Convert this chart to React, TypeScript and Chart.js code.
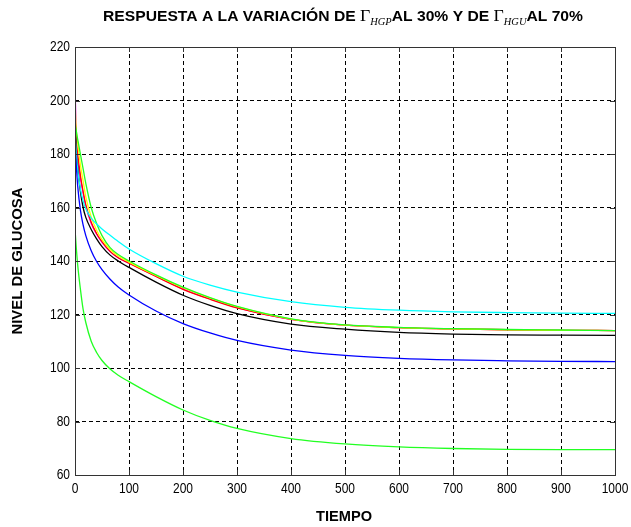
import React, { useEffect, useRef } from 'react';
import { Chart, registerables } from 'chart.js';

Chart.register(...registerables);

const TIMES = [0, 2, 5, 10, 15, 20, 30, 40, 50, 65, 80, 100, 150, 200, 250, 300, 400, 500, 600, 700, 800, 900, 1000];

const MAGENTA = [208, 188, 179, 171, 165.5, 160.5, 154, 150, 147, 143.5, 141.2, 139.2, 134.3, 129.6, 125.8, 122.6, 118.2, 116, 115.1, 114.6, 114.3, 114.1, 114];
const RED = [194, 186, 180, 172, 166, 161, 154.5, 150.3, 147.2, 143.6, 141.2, 139.2, 134.2, 129.4, 125.7, 122.5, 118.2, 116, 115.1, 114.6, 114.3, 114.1, 114];
const YELLOW = [200, 190, 184, 176, 170, 164, 156.5, 151.5, 148, 144.3, 141.9, 139.6, 134.6, 130, 126.2, 122.9, 118.3, 116, 115.1, 114.6, 114.3, 114.1, 114];
const BLACK = [197, 182, 175, 166, 160, 156.3, 151.8, 148.3, 145.4, 142.2, 140, 137.6, 132.1, 127.2, 123.4, 120.3, 116.4, 114.5, 113.3, 112.7, 112.4, 112.3, 112.2];
const GREEN = [191, 189, 185.5, 180, 174.5, 169, 160, 154, 149.5, 145, 142.4, 140, 134.8, 130.2, 126.3, 123, 118.4, 116.1, 115.2, 114.7, 114.4, 114.2, 114];
const CYAN = [188.6, 181, 174, 167, 162.5, 159.5, 156, 153.8, 152, 149.6, 147.3, 144.5, 139, 134.3, 131, 128.4, 124.8, 122.7, 121.6, 121, 120.7, 120.5, 120.4];
const BLUE = [184, 177, 168, 159, 153.5, 149.5, 143.8, 139.8, 136.8, 133.2, 130.3, 127.3, 121.3, 116.6, 113.1, 110.3, 106.7, 104.7, 103.6, 103, 102.7, 102.5, 102.4];
const GREEN_LOW = [152, 146, 138.5, 129.5, 122, 117, 110, 105.8, 102.8, 99.6, 97.3, 94.9, 89.3, 84.3, 80.4, 77.4, 73.6, 71.6, 70.5, 69.9, 69.6, 69.5, 69.5];

const X_TICKS = [0, 100, 200, 300, 400, 500, 600, 700, 800, 900, 1000];
const Y_TICKS = [60, 80, 100, 120, 140, 160, 180, 200, 220];

const TITLE_PARTS = [
  { t: 'RESPUESTA A LA VARIACIÓN DE ', kind: 'main' },
  { t: 'Γ', kind: 'greek' },
  { t: 'HGP', kind: 'sub' },
  { t: 'AL 30% Y DE ', kind: 'main' },
  { t: 'Γ', kind: 'greek' },
  { t: 'HGU', kind: 'sub' },
  { t: 'AL 70%', kind: 'main' },
];
const Y_TITLE = 'NIVEL DE GLUCOSA';
const X_TITLE = 'TIEMPO';

const SANS = '"Liberation Sans", Arial, sans-serif';
const SERIF = '"Liberation Serif", "DejaVu Serif", serif';

function fontFor(kind: string) {
  if (kind === 'greek') return `17px ${SERIF}`;
  if (kind === 'sub') return `italic 10px ${SERIF}`;
  return `bold 15px ${SANS}`;
}

function drawFitText(ctx: CanvasRenderingContext2D, text: string, font: string, cx: number, cy: number, width: number, rotate: boolean) {
  ctx.save();
  ctx.font = font;
  const w = ctx.measureText(text).width;
  ctx.translate(cx, cy);
  if (rotate) ctx.rotate(-Math.PI / 2);
  ctx.scale(width / w, 1);
  ctx.textAlign = 'center';
  ctx.textBaseline = 'middle';
  ctx.fillStyle = '#000';
  ctx.fillText(text, 0, 0);
  ctx.restore();
}

function drawNarrow(ctx: CanvasRenderingContext2D, text: string, x: number, y: number, align: 'right' | 'center') {
  const sx = 0.8;
  ctx.save();
  ctx.font = `15px ${SANS}`;
  const w = ctx.measureText(text).width * sx;
  const left = align === 'right' ? x - w : x - w / 2;
  ctx.translate(left, y);
  ctx.scale(sx, 1);
  ctx.textAlign = 'left';
  ctx.textBaseline = 'middle';
  ctx.fillStyle = '#000';
  ctx.fillText(text, 0, 0);
  ctx.restore();
}

const decorPlugin = {
  id: 'decor',
  afterDraw(chart: any) {
    const ctx: CanvasRenderingContext2D = chart.ctx;
    const { left, right, top, bottom } = chart.chartArea;
    const xs = chart.scales.x;
    const ys = chart.scales.y;
    ctx.save();
    ctx.strokeStyle = '#333';
    ctx.lineWidth = 1;
    ctx.setLineDash([]);
    ctx.strokeRect(Math.round(left) + 0.5, Math.round(top) + 0.5, Math.round(right - left), Math.round(bottom - top));
    ctx.beginPath();
    const tl = 5;
    X_TICKS.forEach((v) => {
      const px = Math.round(xs.getPixelForValue(v)) + 0.5;
      ctx.moveTo(px, bottom);
      ctx.lineTo(px, bottom - tl);
      ctx.moveTo(px, top);
      ctx.lineTo(px, top + tl);
    });
    Y_TICKS.forEach((v) => {
      const py = Math.round(ys.getPixelForValue(v)) + 0.5;
      ctx.moveTo(left, py);
      ctx.lineTo(left + tl, py);
      ctx.moveTo(right, py);
      ctx.lineTo(right - tl, py);
    });
    ctx.stroke();

    X_TICKS.forEach((v) => {
      drawNarrow(ctx, String(v), xs.getPixelForValue(v), bottom + 14, 'center');
    });
    Y_TICKS.forEach((v) => {
      drawNarrow(ctx, String(v), left - 5, ys.getPixelForValue(v), 'right');
    });

    const widths = TITLE_PARTS.map((p) => {
      ctx.font = fontFor(p.kind);
      return ctx.measureText(p.t).width;
    });
    const total = widths.reduce((a, b) => a + b, 0);
    const target = 480;
    const sx = target / total;
    const cx = 343;
    const baseline = 21;
    ctx.save();
    ctx.translate(cx - target / 2, baseline);
    ctx.scale(sx, 1);
    ctx.fillStyle = '#000';
    ctx.textAlign = 'left';
    ctx.textBaseline = 'alphabetic';
    let x = 0;
    TITLE_PARTS.forEach((p, i) => {
      ctx.font = fontFor(p.kind);
      const dy = p.kind === 'sub' ? 4 : 0;
      ctx.fillText(p.t, x, dy);
      x += widths[i];
    });
    ctx.restore();
    ctx.restore();

    drawFitText(ctx, Y_TITLE, `bold 15px ${SANS}`, 18, 261, 147, true);
    drawFitText(ctx, X_TITLE, `bold 15px ${SANS}`, 344, 517, 56, false);
  },
};

export default function App() {
  const ref = useRef<HTMLCanvasElement>(null);

  useEffect(() => {
    if (!ref.current) return;
    const series = [
      { data: MAGENTA, color: '#ff00ff' },
      { data: RED, color: '#ff0000' },
      { data: YELLOW, color: '#ffff00' },
      { data: BLACK, color: '#000000' },
      { data: GREEN, color: '#22ff22' },
      { data: CYAN, color: '#00ffff' },
      { data: BLUE, color: '#0000ff' },
      { data: GREEN_LOW, color: '#22ff22' },
    ];
    const n = series.length;
    const chart = new Chart(ref.current, {
      type: 'line',
      data: {
        datasets: series.map((s, i) => ({
          data: TIMES.map((t, j) => ({ x: t, y: s.data[j] })),
          borderColor: s.color,
          backgroundColor: s.color,
          borderWidth: 1.3,
          pointRadius: 0,
          fill: false,
          cubicInterpolationMode: 'monotone' as const,
          order: n - i,
        })),
      },
      options: {
        responsive: false,
        animation: false,
        events: [],
        layout: { padding: { left: 0, right: 16, top: 47, bottom: 0 } },
        plugins: { legend: { display: false }, tooltip: { enabled: false }, title: { display: false } },
        scales: {
          x: {
            type: 'linear',
            min: 0,
            max: 1000,
            afterFit: (s: any) => { s.height = 52; },
            afterBuildTicks: (s: any) => { s.ticks = X_TICKS.map((v) => ({ value: v })); },
            ticks: { display: false },
            grid: { color: '#000', lineWidth: 1, drawTicks: false },
            border: { display: false, dash: [4, 3] },
          },
          y: {
            type: 'linear',
            min: 60,
            max: 220,
            afterFit: (s: any) => { s.width = 75; },
            afterBuildTicks: (s: any) => { s.ticks = Y_TICKS.map((v) => ({ value: v })); },
            ticks: { display: false },
            grid: { color: '#000', lineWidth: 1, drawTicks: false },
            border: { display: false, dash: [4, 3] },
          },
        },
      },
      plugins: [decorPlugin],
    } as any);
    return () => chart.destroy();
  }, []);

  return (
    <div style={{ position: 'fixed', left: 0, top: 0, width: 631, height: 527, background: '#fff' }}>
      <canvas ref={ref} width={631} height={527} style={{ display: 'block' }} />
    </div>
  );
}
